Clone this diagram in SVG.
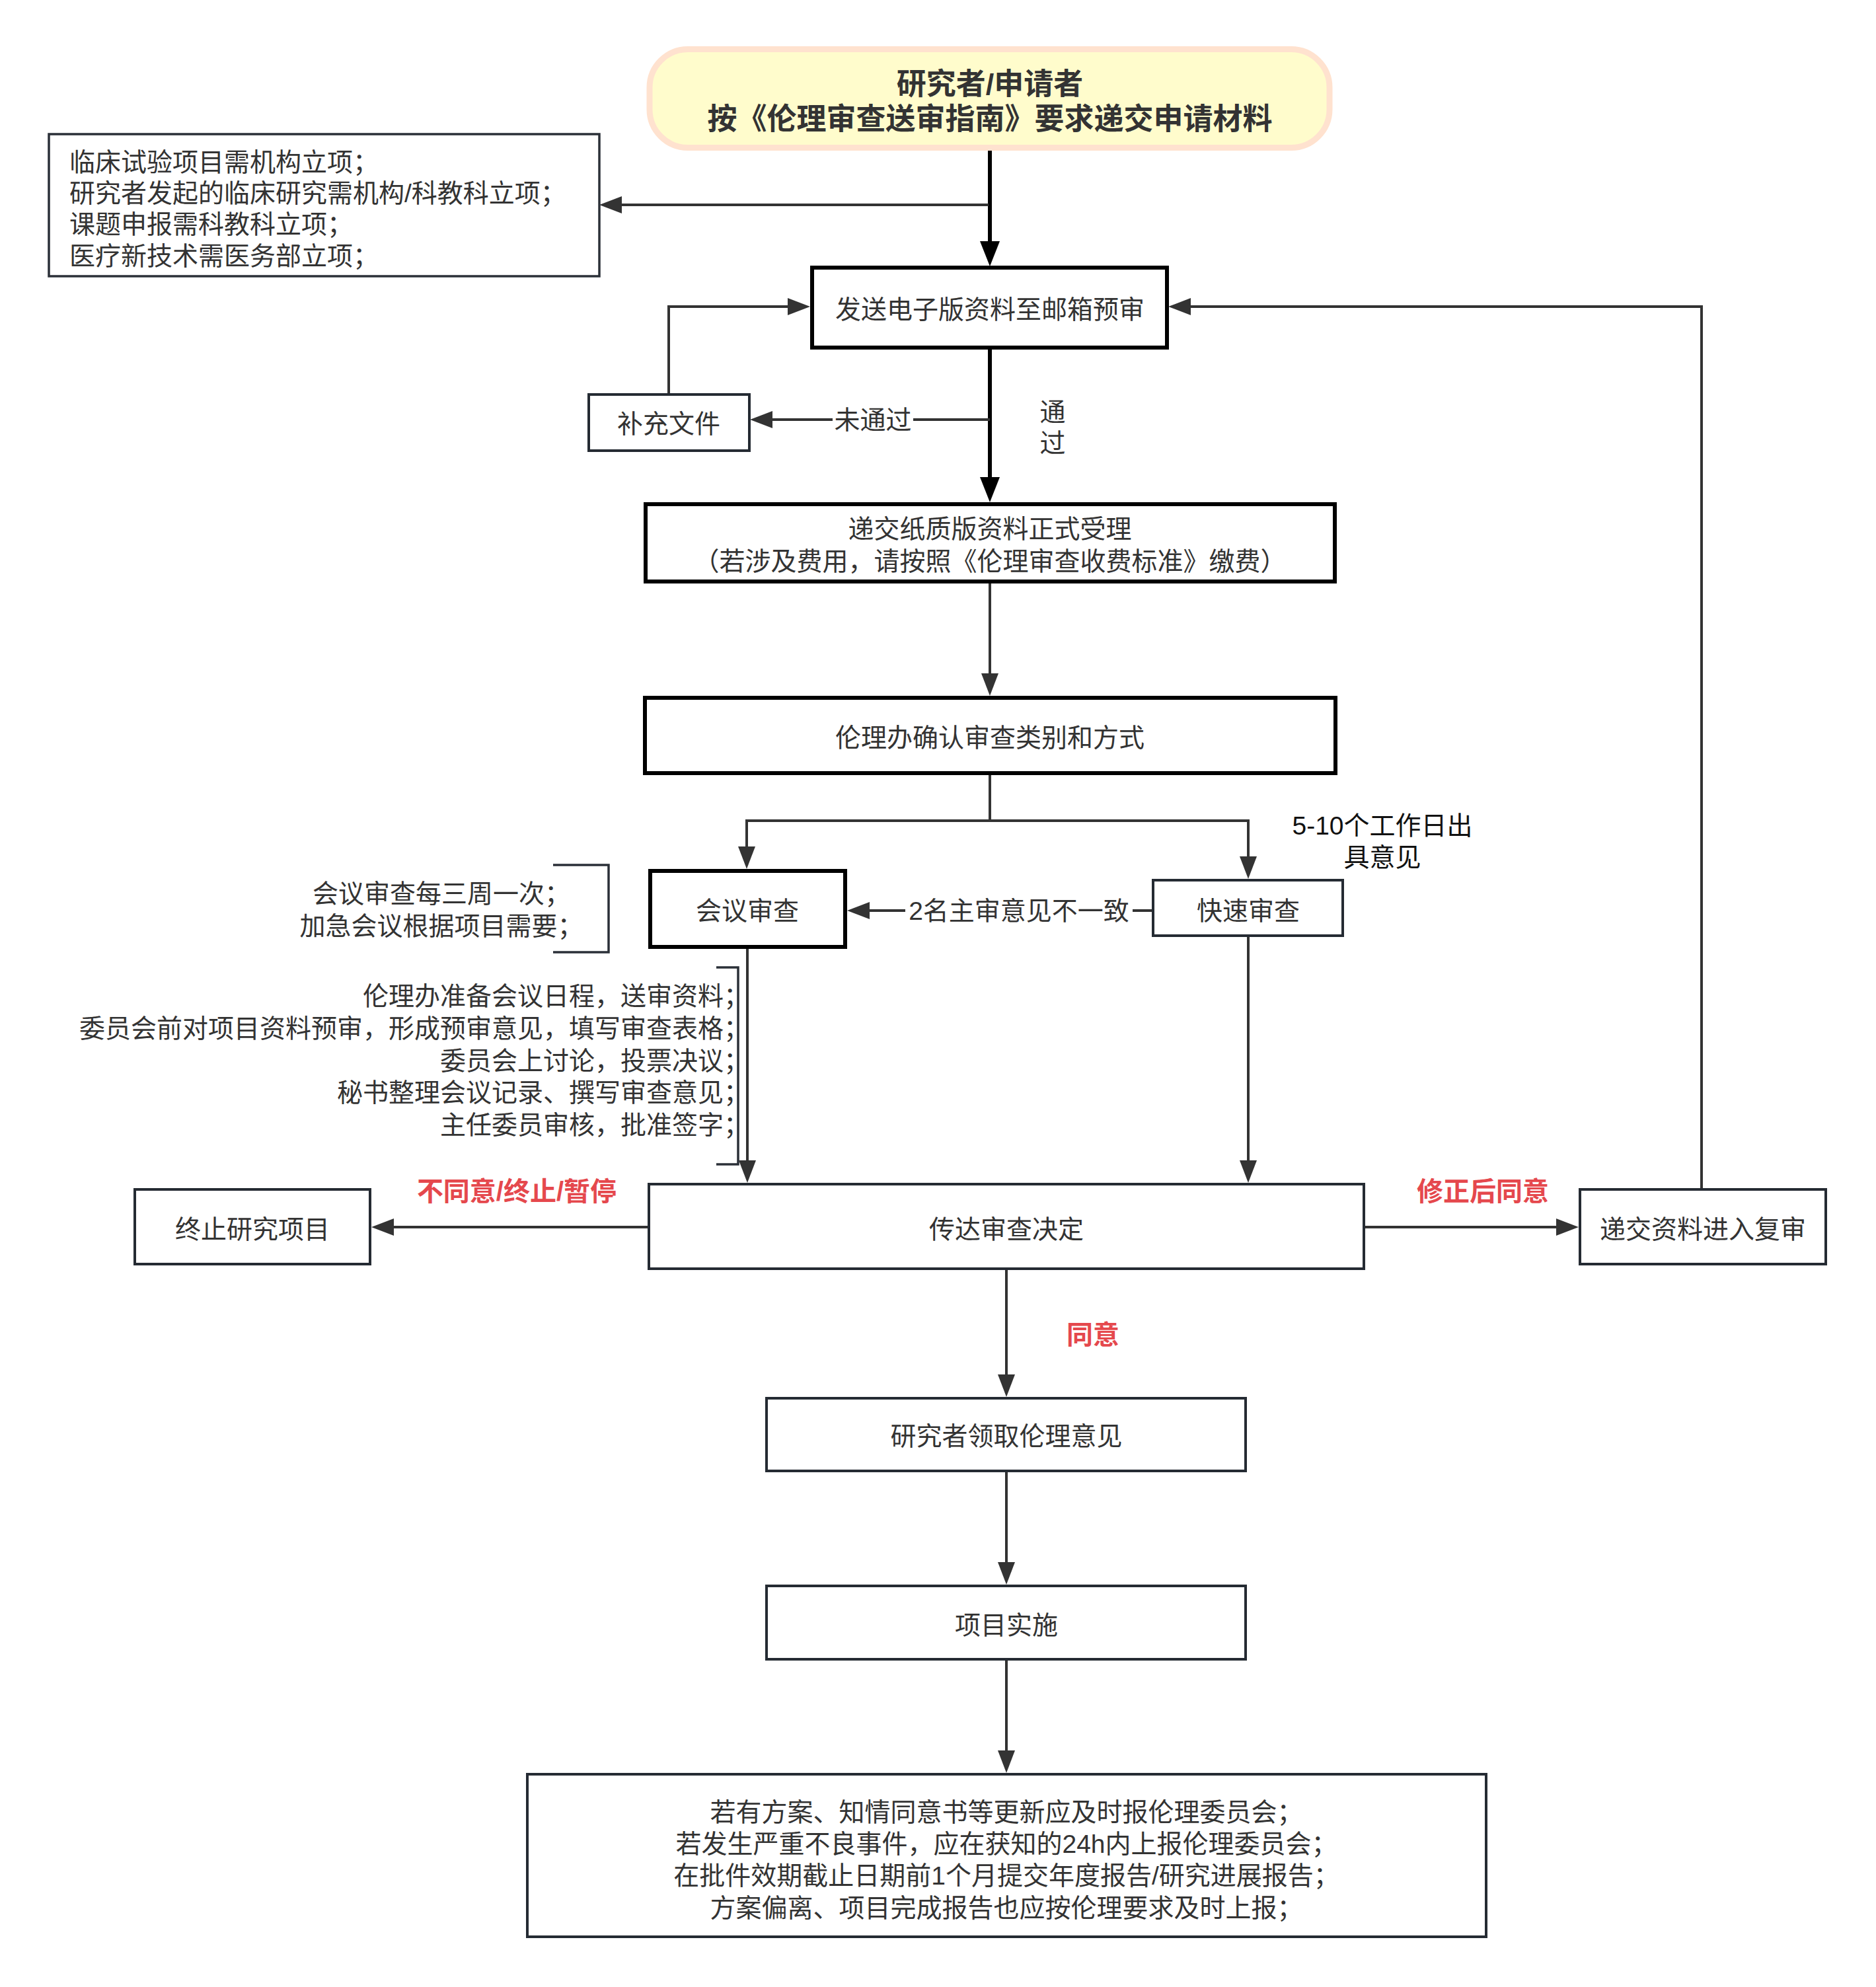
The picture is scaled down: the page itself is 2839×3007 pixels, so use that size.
<svg xmlns="http://www.w3.org/2000/svg" width="2839" height="3007" viewBox="0 0 2839 3007">
<style>
  text { font-family: "Liberation Sans", "Noto Sans CJK SC", sans-serif; font-size: 39px; fill: #333333; dominant-baseline: central; }
  .c { text-anchor: middle; }
  .r { text-anchor: end; }
  .b { font-weight: bold; }
  .red { fill: #e5484d; font-weight: bold; font-size: 40px; text-anchor: middle; }
  .blk { fill: #111111; }
  .box { fill: #ffffff; stroke: #252b33; stroke-width: 4; }
  .boxk { fill: #ffffff; stroke: #000000; stroke-width: 6; }
  .thin { fill: #ffffff; stroke: #2b3038; stroke-width: 3.5; }
  .e { fill: none; stroke: #333333; stroke-width: 4; }
  .ek { fill: none; stroke: #000000; stroke-width: 6; }
  .br { fill: none; stroke: #2b3038; stroke-width: 3.5; }
</style>
<defs>
  <marker id="ak" markerUnits="userSpaceOnUse" markerWidth="40" markerHeight="32" viewBox="0 0 40 32" refX="28" refY="16" orient="auto">
    <path d="M0,1 L38,16 L0,31 Z" fill="#000000"/>
  </marker>
  <marker id="ag" markerUnits="userSpaceOnUse" markerWidth="36" markerHeight="28" viewBox="0 0 36 28" refX="24" refY="14" orient="auto">
    <path d="M0,1 L34,14 L0,27 Z" fill="#333333"/>
  </marker>
</defs>
<rect width="2839" height="3007" fill="#ffffff"/>

<g id="connectors">
  <path class="ek" d="M1498,228 V393" marker-end="url(#ak)"/>
  <path class="e" d="M1496,310 H917" marker-end="url(#ag)"/>
  <path class="ek" d="M1498,528 V750" marker-end="url(#ak)"/>
  <path class="e" d="M1498,635 H1145" marker-end="url(#ag)"/>
  <path class="e" d="M1012,595 V464 H1216" marker-end="url(#ag)"/>
  <path class="e" d="M1498,883 V1043" marker-end="url(#ag)"/>
  <path class="e" d="M1498,1172 V1242 H1130 V1305" marker-end="url(#ag)"/>
  <path class="e" d="M1498,1242 H1889 V1320" marker-end="url(#ag)"/>
  <path class="e" d="M1743,1378 H1292" marker-end="url(#ag)"/>
  <path class="e" d="M1131,1435 V1780" marker-end="url(#ag)"/>
  <path class="e" d="M1889,1418 V1780" marker-end="url(#ag)"/>
  <path class="e" d="M980,1857 H572" marker-end="url(#ag)"/>
  <path class="e" d="M2066,1857 H2379" marker-end="url(#ag)"/>
  <path class="e" d="M2575,1798 V464 H1778" marker-end="url(#ag)"/>
  <path class="e" d="M1523,1922 V2104" marker-end="url(#ag)"/>
  <path class="e" d="M1523,2228 V2388" marker-end="url(#ag)"/>
  <path class="e" d="M1523,2513 V2673" marker-end="url(#ag)"/>
  <g id="edge-labels">
    <rect x="1260" y="612" width="122" height="46" fill="#ffffff"/>
    <text class="c" x="1321" y="635">未通过</text>
    <text class="c" x="1593" y="623">通</text>
    <text class="c" x="1593" y="670">过</text>
    <rect x="1370" y="1355" width="344" height="46" fill="#ffffff"/>
    <text class="c" x="1542" y="1378">2名主审意见不一致</text>
    <text class="c blk" x="2092" y="1249">5-10个工作日出</text>
    <text class="c blk" x="2092" y="1297">具意见</text>
    <text class="red" x="782" y="1803">不同意/终止/暂停</text>
    <text class="red" x="2244" y="1803">修正后同意</text>
    <text class="red" x="1654" y="2020">同意</text>
  </g>
</g>

<g id="n-start">
  <rect x="983" y="74.5" width="1029" height="149" rx="58" ry="58" fill="#fffccc" stroke="#ffe2cf" stroke-width="9"/>
  <text class="c b" x="1498" y="127" style="font-size:45px">研究者/申请者</text>
  <text class="c b" x="1498" y="180" style="font-size:45px">按《伦理审查送审指南》要求递交申请材料</text>
</g>

<g id="n-approval">
  <rect class="thin" x="74" y="203" width="833" height="215"/>
  <text x="105" y="245">临床试验项目需机构立项；</text>
  <text x="105" y="292">研究者发起的临床研究需机构/科教科立项；</text>
  <text x="105" y="339">课题申报需科教科立项；</text>
  <text x="105" y="387">医疗新技术需医务部立项；</text>
</g>

<g id="n-email">
  <rect class="boxk" x="1229" y="405" width="537" height="121"/>
  <text class="c" x="1498" y="468">发送电子版资料至邮箱预审</text>
</g>

<g id="n-supplement">
  <rect class="box" x="891" y="597" width="243" height="85"/>
  <text class="c" x="1012" y="641">补充文件</text>
</g>

<g id="n-paper">
  <rect class="boxk" x="977" y="763" width="1043" height="117"/>
  <text class="c" x="1498" y="800">递交纸质版资料正式受理</text>
  <text class="c" x="1498" y="849">（若涉及费用，请按照《伦理审查收费标准》缴费）</text>
</g>

<g id="n-confirm">
  <rect class="boxk" x="976" y="1056" width="1045" height="114"/>
  <text class="c" x="1498" y="1116">伦理办确认审查类别和方式</text>
</g>

<g id="n-meeting">
  <rect class="boxk" x="984" y="1318" width="295" height="115"/>
  <text class="c" x="1131" y="1378">会议审查</text>
</g>

<g id="n-fast">
  <rect class="box" x="1745" y="1332" width="287" height="84"/>
  <text class="c" x="1889" y="1378">快速审查</text>
</g>

<g id="n-meeting-note">
  <path class="br" d="M837,1309 H921 V1441 H837"/>
  <text class="c" x="668" y="1352">会议审查每三周一次；</text>
  <text class="c" x="668" y="1401">加急会议根据项目需要；</text>
</g>

<g id="n-meeting-steps">
  <path class="br" d="M1084,1464 H1117 V1762 H1084"/>
  <text class="r" x="1134" y="1507">伦理办准备会议日程，送审资料；</text>
  <text class="r" x="1134" y="1556">委员会前对项目资料预审，形成预审意见，填写审查表格；</text>
  <text class="r" x="1134" y="1605">委员会上讨论，投票决议；</text>
  <text class="r" x="1134" y="1653">秘书整理会议记录、撰写审查意见；</text>
  <text class="r" x="1134" y="1702">主任委员审核，批准签字；</text>
</g>

<g id="n-decision">
  <rect class="box" x="982" y="1792" width="1082" height="128"/>
  <text class="c" x="1523" y="1860">传达审查决定</text>
</g>

<g id="n-terminate">
  <rect class="box" x="204" y="1800" width="356" height="113"/>
  <text class="c" x="382" y="1860">终止研究项目</text>
</g>

<g id="n-resubmit">
  <rect class="box" x="2391" y="1800" width="372" height="113"/>
  <text class="c" x="2577" y="1860">递交资料进入复审</text>
</g>

<g id="n-receive">
  <rect class="box" x="1160" y="2116" width="725" height="110"/>
  <text class="c" x="1523" y="2173">研究者领取伦理意见</text>
</g>

<g id="n-implement">
  <rect class="box" x="1160" y="2400" width="725" height="111"/>
  <text class="c" x="1523" y="2459">项目实施</text>
</g>

<g id="n-report">
  <rect class="box" x="798" y="2685" width="1451" height="246"/>
  <text class="c" x="1523" y="2742">若有方案、知情同意书等更新应及时报伦理委员会；</text>
  <text class="c" x="1523" y="2790">若发生严重不良事件，应在获知的24h内上报伦理委员会；</text>
  <text class="c" x="1523" y="2838">在批件效期截止日期前1个月提交年度报告/研究进展报告；</text>
  <text class="c" x="1523" y="2887">方案偏离、项目完成报告也应按伦理要求及时上报；</text>
</g>
</svg>
